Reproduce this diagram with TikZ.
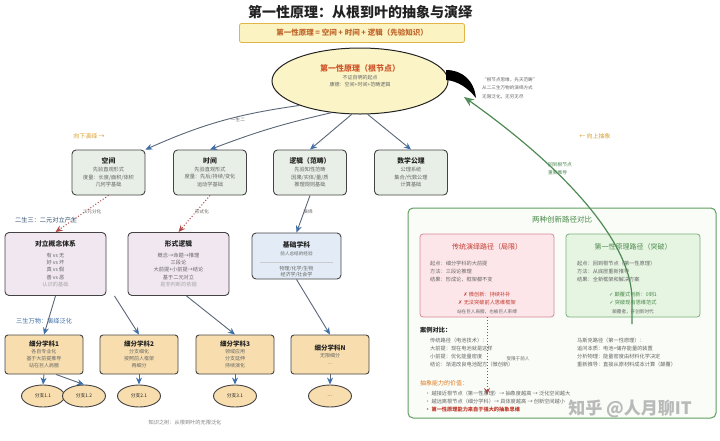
\documentclass[tikz,border=0pt]{standalone}
\usepackage{fontspec}
\setmainfont{Noto Sans CJK SC}
\newfontfamily\symf{DejaVu Sans}
\usetikzlibrary{arrows.meta,shapes.geometric,calc}
\definecolor{titlec}{HTML}{222222}
\definecolor{bannerfill}{HTML}{FCF3C2}
\definecolor{bannerline}{HTML}{E2B54A}
\definecolor{bannertext}{HTML}{C0662A}
\definecolor{rootfill}{HTML}{FBF4C6}
\definecolor{rootred}{HTML}{D0552A}
\definecolor{boxline}{HTML}{444444}
\definecolor{bodytext}{HTML}{666666}
\definecolor{darktext}{HTML}{222222}
\definecolor{twofill}{HTML}{E8EFE6}
\definecolor{threefill}{HTML}{F1E7F0}
\definecolor{basefill}{HTML}{E3ECF6}
\definecolor{fourfill}{HTML}{F8DEAE}
\definecolor{linec}{HTML}{5A6678}
\definecolor{headc}{HTML}{3D6FA8}
\definecolor{dotc}{HTML}{B04848}
\definecolor{labelc}{HTML}{2F4F6F}
\definecolor{goldc}{HTML}{D9A030}
\definecolor{panelline}{HTML}{5E9E5E}
\definecolor{panelfill}{HTML}{F9FCF7}
\definecolor{redfill}{HTML}{FDE6EA}
\definecolor{redline}{HTML}{D88A94}
\definecolor{redtitle}{HTML}{C0392B}
\definecolor{greenfill}{HTML}{E6F4E2}
\definecolor{greenline}{HTML}{7AB07A}
\definecolor{greentitle}{HTML}{4A8A4A}
\definecolor{arrowgreen}{HTML}{4F8A55}
\definecolor{orangec}{HTML}{E07A20}
\begin{document}
\begin{tikzpicture}[x=1pt,y=-1pt,
  lvtwo/.style={draw=boxline, line width=0.9pt, rounded corners=4pt, fill=twofill, minimum width=73pt, minimum height=45pt, align=center, inner sep=1pt, font=\fontsize{5.2}{7.6}\selectfont, text=bodytext},
  lvthree/.style={draw=boxline, line width=0.9pt, rounded corners=4pt, fill=threefill, minimum width=101pt, minimum height=63pt, align=center, inner sep=1pt, font=\fontsize{5.2}{7.4}\selectfont, text=bodytext},
  basebox/.style={draw=boxline, line width=0.9pt, rounded corners=4pt, fill=basefill, minimum width=89pt, minimum height=46pt, inner sep=0pt},
  lvfour/.style={draw=boxline, line width=0.9pt, rounded corners=3pt, fill=fourfill, minimum width=78pt, minimum height=39pt, align=center, inner sep=1pt, font=\fontsize{5}{7}\selectfont, text=bodytext},
  leaf/.style={ellipse, draw=boxline, line width=0.9pt, fill=fourfill, minimum width=43pt, minimum height=22pt, inner sep=0pt, font=\fontsize{4.8}{6}\selectfont, text=darktext},
  btitle/.style={font=\fontsize{6.8}{8}\selectfont\bfseries, text=darktext},
  bluearrow/.style={draw=linec, line width=0.9pt, -{Stealth[length=7pt,width=6pt,fill=headc,color=headc]}},
  dotarrow/.style={draw=dotc, line width=1pt, dotted, -{Stealth[length=7pt,width=6pt,fill=dotc,color=dotc]}},
  small/.style={font=\fontsize{4.6}{6}\selectfont, text=bodytext},
  ptext/.style={font=\fontsize{5.2}{8}\selectfont, text=bodytext, align=left, inner sep=0pt},
]
\fill[white] (0,0) rectangle (720,440);
\useasboundingbox (0,0) rectangle (720,440);

% title and banner
\node[font=\fontsize{14}{16}\selectfont\bfseries, text=titlec] (title) at (360,12) {第一性原理：从根到叶的抽象与演绎};
\node[draw=bannerline, fill=bannerfill, line width=0.8pt, rounded corners=2pt, minimum width=225pt, minimum height=19pt, text=bannertext, font=\fontsize{7.5}{9}\selectfont\bfseries] (banner) at (352,33) {第一性原理 = 空间 + 时间 + 逻辑（先验知识）};

% root
\node[ellipse, draw=darktext, line width=1pt, fill=rootfill, minimum width=176pt, minimum height=66pt, inner sep=0pt] (root) at (360,81) {};
\node[align=center, inner sep=0pt, font=\fontsize{5}{7}\selectfont, text=bodytext] (roottxt) at (360,76) {{\fontsize{8}{9}\selectfont\bfseries\color{rootred}第一性原理（根节点）}\\[1pt]不证自明的起点\\康德：空间+时间+范畴逻辑};

% black crescent
\fill[black] (446,70) .. controls (462,70) and (474,80) .. (476,98) .. controls (468,88) and (458,81) .. (446,80) -- cycle;
\node[anchor=west, align=left, inner sep=0pt, font=\fontsize{4.6}{8.4}\selectfont, text=bodytext] (quote) at (482,88) {“根节点思维，先天范畴”\\从二三生万物的演绎方式\\无限泛化，无穷无尽};

% side labels
\node[font=\fontsize{6}{7}\selectfont, text=goldc] (down) at (89,136) {向下演绎 →};
\node[font=\fontsize{6}{7}\selectfont, text=goldc] (up) at (595,136) {← 向上抽象};
\node[font=\fontsize{6.2}{7}\selectfont, text=labelc, anchor=west, inner sep=0pt] (l23) at (15,220) {二生三：二元对立产生};
\node[font=\fontsize{6.2}{7}\selectfont, text=headc, anchor=west, inner sep=0pt] (l3w) at (16,321) {三生万物：演绎泛化};

% level 2
\node[lvtwo] (kj) at (108.5,172.5) {{\fontsize{6.8}{8}\selectfont\bfseries\color{darktext}空间}\\先验直观形式\\度量：长度/面积/体积\\几何学基础};
\node[lvtwo] (sj) at (210,172.5) {{\fontsize{6.8}{8}\selectfont\bfseries\color{darktext}时间}\\先验直观形式\\度量：先后/持续/变化\\运动学基础};
\node[lvtwo] (lj) at (310,172.5) {{\fontsize{6.8}{8}\selectfont\bfseries\color{darktext}逻辑（范畴）}\\先验知性范畴\\因果/实体/量/质\\推理规则基础};
\node[lvtwo] (sx) at (411,172.5) {{\fontsize{6.8}{8}\selectfont\bfseries\color{darktext}数学公理}\\公理系统\\集合/代数公理\\计算基础};

% level 3
\node[lvthree] (dl) at (55.5,264) {{\fontsize{6.8}{8}\selectfont\bfseries\color{darktext}对立概念体系}\\[3pt]有 vs 无\\好 vs 坏\\真 vs 假\\善 vs 恶\\{\color{gray!70}认识的基础}};
\node[lvthree] (xs) at (178.5,264) {{\fontsize{6.8}{8}\selectfont\bfseries\color{darktext}形式逻辑}\\[3pt]概念→命题→推理\\三段论\\大前提+小前提→结论\\基于二元对立\\{\color{gray!70}是非判断的依据}};
\node[basebox] (jc) at (296.5,256) {};
\node[btitle] (jct) at (296.5,245) {基础学科};
\node[small] (jc1) at (296.5,254) {前人总结的经验};
\draw[gray!40, line width=0.4pt] ($(jc.west)+(8,6)$) coordinate (sepa) -- ($(jc.east)+(-8,6)$) coordinate (sepb);
\node[align=center, inner sep=0pt, font=\fontsize{5}{6.6}\selectfont, text=bodytext] (jc2) at (296.5,272) {物理/化学/生物\\经济学/社会学};

% level 4
\node[lvfour] (f1) at (44,354.5) {{\fontsize{6.5}{8}\selectfont\bfseries\color{darktext}细分学科1}\\各自专业化\\基于大前提推导\\站在巨人肩膀};
\node[lvfour] (f2) at (139,354.5) {{\fontsize{6.5}{8}\selectfont\bfseries\color{darktext}细分学科2}\\分支细化\\按照前人框架\\再细分};
\node[lvfour] (f3) at (235,354.5) {{\fontsize{6.5}{8}\selectfont\bfseries\color{darktext}细分学科3}\\领域应用\\分支延伸\\持续演化};
\node[lvfour] (fn) at (330,354.5) {{\fontsize{6.5}{8}\selectfont\bfseries\color{darktext}细分学科N}\\无限细分\\…};

% leaves
\node[leaf] (e11) at (43,396) {分支1.1};
\node[leaf] (e12) at (84,396) {分支1.2};
\node[leaf] (e21) at (139,396) {分支2.1};
\node[leaf] (e31) at (235,396) {分支3.1};
\node[leaf] (en) at (330,396) {…};

\node[font=\fontsize{5.2}{6}\selectfont, text=gray] (cap) at (185,423) {知识之树：从根到叶的无限泛化};

% arrows root -> level2
\draw[bluearrow] (root.202) to[bend right=8] (kj.north east);
\draw[bluearrow] (root.228) to[bend right=4] (sj.north);
\draw[bluearrow] (root.256) -- (lj.north);
\draw[bluearrow] (root.283) -- (sx.north);
\node[small] (ysr) at (238,120) {一生二};

% dotted arrows
\draw[dotarrow] (kj.south) -- (dl.north);
\node[small] (lb1) at (92,212) {二元分化};
\draw[dotarrow] (sj.south) -- (xs.north);
\node[small] (lb2) at (202,212) {形式化};
\draw[bluearrow] (lj.south) -- (jc.north);
\node[small] (lb3) at (308,212) {演绎};

% level3 -> level4
\draw[bluearrow] (dl.south) -- (f1.north);
\draw[bluearrow] ($(dl.south east)+(8,0)$) -- (f2.north);
\draw[bluearrow] ($(xs.south)+(8,0)$) -- (f3.north);
\draw[bluearrow] (jc.south) -- (fn.north);

% level4 -> leaves
\draw[bluearrow] (f1.south) -- (e11.north);
\draw[bluearrow] ($(f1.south)+(12,0)$) -- (e12.north);
\draw[bluearrow] (f2.south) -- (e21.north);
\draw[bluearrow] (f3.south) -- (e31.north);
\draw[bluearrow] (fn.south) -- (en.north);

% right panel
\node[draw=panelline, line width=1pt, rounded corners=5pt, fill=panelfill, minimum width=308pt, minimum height=210pt] (panel) at (562,313) {};
\node[font=\fontsize{7.5}{9}\selectfont, text=greentitle] (ptitle) at (562,220) {两种创新路径对比};

\node[draw=redline, line width=0.8pt, rounded corners=3pt, fill=redfill, minimum width=134pt, minimum height=83pt] (rbox) at (487,275.5) {};
\node[font=\fontsize{7}{8}\selectfont, text=redtitle] (rtitle) at (487,247) {传统演绎路径（局限）};
\node[ptext, anchor=north west] (rtext) at (430,261) {起点：细分学科的大前提\\方法：三段论推理\\结果：形成论，框架都不变};
\node[align=center, inner sep=0pt, font=\fontsize{5.2}{8}\selectfont, text=redtitle] (rres) at (487,299) {{\symf ✗} 微创新：持续补补\\{\symf ✗} 无法突破前人思维框架};
\node[small] (rres2) at (487,312) {站在巨人肩膀，也被巨人束缚};

\node[draw=greenline, line width=0.8pt, rounded corners=3pt, fill=greenfill, minimum width=134pt, minimum height=83pt] (gbox) at (633,275.5) {};
\node[font=\fontsize{7}{8}\selectfont, text=greentitle] (gtitle) at (633,247) {第一性原理路径（突破）};
\node[ptext, anchor=north west] (gtext) at (577,261) {起点：回到根节点（第一性原理）\\方法：从底层重新推导\\结果：全新框架和解决方案};
\node[align=center, inner sep=0pt, font=\fontsize{5.2}{8}\selectfont, text=greentitle] (gres) at (633,299) {{\symf ✓} 颠覆式创新：0到1\\{\symf ✓} 突破现有思维范式};
\node[small] (gres2) at (633,312) {颠覆者，开创新时代};

\node[anchor=west, inner sep=0pt, font=\fontsize{6.2}{7}\selectfont\bfseries, text=darktext] (case) at (420,330) {案例对比：};
\node[ptext, anchor=north west] (cl) at (430,338) {传统路径（电池技术）：\\大前提：现在电池就是这样\\小前提：优化能量密度\\结论：渐进改良电池配方（微创新）};
\node[ptext, anchor=north west] (cr) at (577,338) {马斯克路径（第一性原理）：\\追问本质：电池=储存能量的装置\\分析物理：能量密度由材料化学决定\\重新推导：直接从原材料成本计算（颠覆）};

\coordinate (dend) at (487,395);
\draw[dotarrow] (rbox.south) -- (dend);
\node[small] (lim) at (518,359) {受限于前人};

\node[anchor=west, inner sep=0pt, font=\fontsize{6}{7}\selectfont, text=orangec] (val) at (420,383) {抽象能力的价值：};
\node[ptext, anchor=north west] (vl) at (425,391) {• 越接近根节点（第一性原理）→ 抽象度越高 → 泛化空间越大\\• 越远离根节点（细分学科）→ 具体度越高 → 创新空间越小\\{\color{redtitle}\bfseries • 第一性原理能力来自于强大的抽象思维}};

% green upward arrow
\coordinate (gstart) at (632,324);
\coordinate (gend) at (464,97);
\draw[draw=arrowgreen, line width=1.2pt, -{Stealth[length=10pt,width=8pt,fill=arrowgreen!80,color=arrowgreen]}] (gstart) -- (632,300) .. controls (632,240) and (560,165) .. (gend);
\node[align=left, inner sep=0pt, font=\fontsize{4.8}{8}\selectfont, text=arrowgreen] (back) at (560,169) {回到根节点\\重新推导};

% watermark
\node[font=\fontsize{17}{18}\selectfont\bfseries, text=gray!55] (wm) at (630,409) {知乎 @人月聊IT};
\end{tikzpicture}
\end{document}
